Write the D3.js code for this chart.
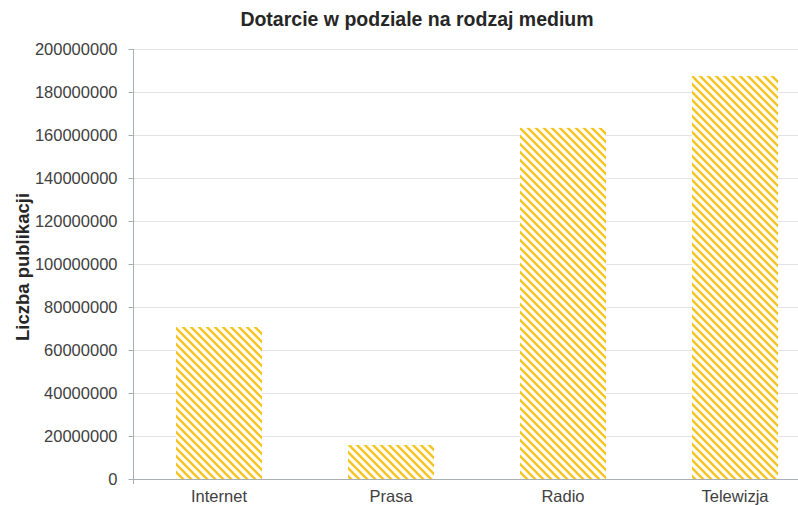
<!DOCTYPE html>
<html>
<head>
<meta charset="utf-8">
<script src="https://cdn.jsdelivr.net/npm/d3@7"></script>
<style>
  html, body { margin: 0; padding: 0; background: #fff; }
  svg { display: block; font-family: "Liberation Sans", Arial, sans-serif; }
</style>
</head>
<body>
<svg id="chart" width="798" height="505"></svg>
<script>
// Reach by media type
const categories = ["Internet", "Prasa", "Radio", "Telewizja"];
const values = [70700000, 15800000, 163300000, 187400000];
const yTicks = [0, 20000000, 40000000, 60000000, 80000000, 100000000,
                120000000, 140000000, 160000000, 180000000, 200000000];

const svg = d3.select("#chart");
const plot = { left: 133, right: 821, top: 49, bottom: 479 };

const x = d3.scaleBand()
  .domain(categories)
  .range([plot.left, plot.right])
  .paddingInner(0.5)
  .paddingOuter(0.25);

const y = d3.scaleLinear()
  .domain([0, 200000000])
  .range([plot.bottom, plot.top]);

// Diagonal hatch fill for the bars
const defs = svg.append("defs");
const pat = defs.append("pattern")
  .attr("id", "hatch")
  .attr("patternUnits", "userSpaceOnUse")
  .attr("width", 8)
  .attr("height", 8);
pat.append("rect").attr("width", 8).attr("height", 8).attr("fill", "#fffef8");
pat.append("path")
  .attr("d", "M-2,-2 L10,10 M-6,2 L2,10 M6,-2 L14,6")
  .attr("stroke", "#f7c320")
  .attr("stroke-width", 2.3)
  .attr("fill", "none");

// Horizontal gridlines
svg.append("g")
  .selectAll("line")
  .data(yTicks.filter(d => d > 0))
  .join("line")
  .attr("x1", plot.left)
  .attr("x2", plot.right)
  .attr("y1", d => Math.round(y(d)) + 0.5)
  .attr("y2", d => Math.round(y(d)) + 0.5)
  .attr("stroke", "#e3e3e3")
  .attr("stroke-width", 1);

// Bars
svg.append("g")
  .selectAll("rect")
  .data(categories)
  .join("rect")
  .attr("x", d => x(d))
  .attr("width", x.bandwidth())
  .attr("y", (d, i) => y(values[i]))
  .attr("height", (d, i) => y(0) - y(values[i]))
  .attr("fill", "url(#hatch)");

// Y axis
const yAxis = d3.axisLeft(y)
  .tickValues(yTicks)
  .tickFormat(d3.format("d"))
  .tickSize(5)
  .tickPadding(11);
const gy = svg.append("g")
  .attr("transform", `translate(${plot.left + 0.5},0)`)
  .call(yAxis);
gy.select(".domain").attr("stroke", "#a9aeb3").attr("d", `M0,${plot.top}V${plot.bottom + 5}`);
gy.selectAll(".tick line").attr("stroke", "#a9aeb3");
gy.selectAll(".tick text")
  .attr("fill", "#404040")
  .style("font-size", "16.5px");

// X axis
const xAxis = d3.axisBottom(x).tickSize(0).tickPadding(11);
const gx = svg.append("g")
  .attr("transform", `translate(0,${plot.bottom + 0.5})`)
  .call(xAxis);
gx.select(".domain").attr("stroke", "#a9aeb3").attr("d", `M${plot.left},0H${plot.right}`);
gx.selectAll(".tick text")
  .attr("fill", "#404040")
  .style("font-size", "16.5px");

// Title
svg.append("text")
  .attr("x", 417)
  .attr("y", 26)
  .attr("text-anchor", "middle")
  .attr("fill", "#262626")
  .style("font-size", "19.5px")
  .style("font-weight", "bold")
  .text("Dotarcie w podziale na rodzaj medium");

// Y axis title
svg.append("text")
  .attr("transform", "translate(29,267) rotate(-90)")
  .attr("text-anchor", "middle")
  .attr("fill", "#262626")
  .style("font-size", "18.5px")
  .style("font-weight", "bold")
  .text("Liczba publikacji");
</script>
</body>
</html>
